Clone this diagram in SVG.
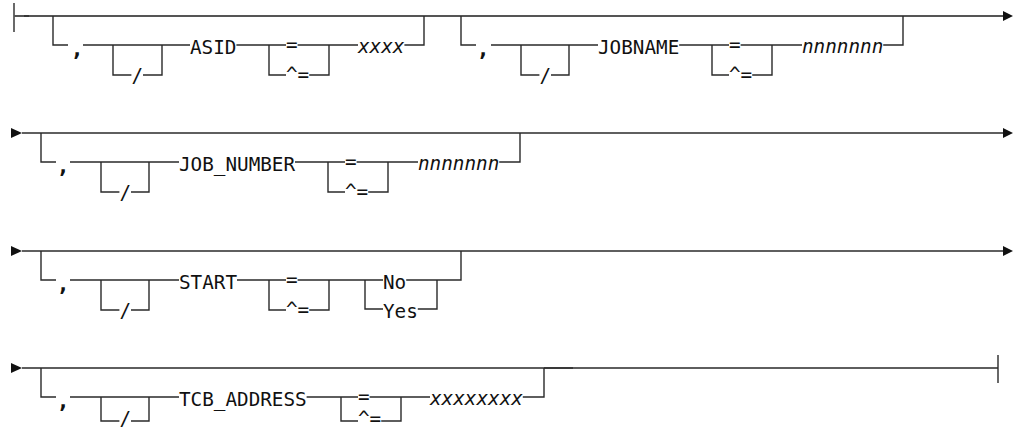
<svg xmlns="http://www.w3.org/2000/svg" width="1015" height="430" viewBox="0 0 1015 430">
<style>
.ln{fill:none;stroke:#2a2a2a;stroke-width:1.4}
.main1{fill:none;stroke:#555;stroke-width:2}
.ar{fill:#111}
text{font-family:"DejaVu Sans Mono","Liberation Mono",monospace;font-size:19.3px;fill:#111}
.v{font-style:italic}
.c{text-anchor:middle;font-size:22px;font-weight:bold}
</style>
<rect width="1015" height="430" fill="#fff"/>
<g id="connectors">
<!-- row 1 -->
<path class="ln" d="M14 3V32"/>
<path class="main1" d="M14 16H1003"/>
<path class="ln" d="M24 16H29" stroke="#111" stroke-width="2"/>
<polygon class="ar" points="1003,11 1013,16 1003,21"/>
<path class="ln" d="M53 16V45H68M83 45H190M236.4 45H286M297.6 45H358M404.4 45H424V16"/>
<path class="ln" d="M113 45V75H131.4M143 75H162V45"/>
<path class="ln" d="M269 45V75H286M309.2 75H329V45"/>
<path class="ln" d="M461 16V45H476M491 45H598M679.2 45H729M740.6 45H802M883.2 45H903V16"/>
<path class="ln" d="M521 45V75H539.4M551 75H569V45"/>
<path class="ln" d="M712 45V75H729M752.2 75H772V45"/>
<!-- row 2 -->
<polygon class="ar" points="11,128 22,133 11,138"/>
<path class="ln" d="M22 133H1003"/>
<polygon class="ar" points="1003,128 1013,133 1003,138"/>
<path class="ln" d="M41 133V162H56M70 162H179M295 162H345M356.6 162H418M499.2 162H520V133"/>
<path class="ln" d="M101 162V192H119.4M131 192H149V162"/>
<path class="ln" d="M328 162V192H345M368.2 192H388V162"/>
<!-- row 3 -->
<polygon class="ar" points="11,246 22,251 11,256"/>
<path class="ln" d="M22 251H1003"/>
<polygon class="ar" points="1003,246 1013,251 1003,256"/>
<path class="ln" d="M41 251V280H56M70 280H179M237 280H286M297.6 280H383M406.2 280H461V251"/>
<path class="ln" d="M101 280V310H119.4M131 310H149V280"/>
<path class="ln" d="M269 280V310H286M309.2 310H329V280"/>
<path class="ln" d="M365 280V309H383M417.8 309H437V280"/>
<!-- row 4 -->
<polygon class="ar" points="11,363 22,368 11,373"/>
<path class="ln" d="M22 368H998M998 355V383"/>
<path class="ln" d="M41 368V397H56M70 397H179M306.6 397H358M369.6 397H430M522.8 397H544V368"/>
<path class="ln" d="M544 368H573" stroke="#111" stroke-width="2.2"/>
<path class="ln" d="M101 397V421H119.4M131 421H149V397"/>
<path class="ln" d="M341 397V421H358M381.2 421H401V397"/>
</g>
<g id="asid">
<text class="c" x="77" y="56">,</text>
<text x="131.4" y="82">/</text>
<text x="190" y="54">ASID</text>
<text x="286" y="51">=</text>
<text x="286" y="81">^=</text>
<text class="v" x="358" y="53">xxxx</text>
</g>
<g id="jobname">
<text class="c" x="483" y="56">,</text>
<text x="539.4" y="82">/</text>
<text x="598" y="54">JOBNAME</text>
<text x="729" y="51">=</text>
<text x="729" y="81">^=</text>
<text class="v" x="802" y="53">nnnnnnn</text>
</g>
<g id="job_number">
<text class="c" x="63" y="173">,</text>
<text x="119.4" y="199">/</text>
<text x="179" y="171">JOB_NUMBER</text>
<text x="345" y="168">=</text>
<text x="345" y="198">^=</text>
<text class="v" x="418" y="170">nnnnnnn</text>
</g>
<g id="start">
<text class="c" x="63" y="291">,</text>
<text x="119.4" y="317">/</text>
<text x="179" y="289">START</text>
<text x="286" y="286">=</text>
<text x="286" y="316">^=</text>
<text x="383" y="289">No</text>
<text x="383" y="318">Yes</text>
</g>
<g id="tcb_address">
<text class="c" x="63" y="408">,</text>
<text x="119.4" y="425">/</text>
<text x="179" y="406">TCB_ADDRESS</text>
<text x="358" y="403">=</text>
<text x="358" y="425">^=</text>
<text class="v" x="430" y="405">xxxxxxxx</text>
</g>
</svg>
